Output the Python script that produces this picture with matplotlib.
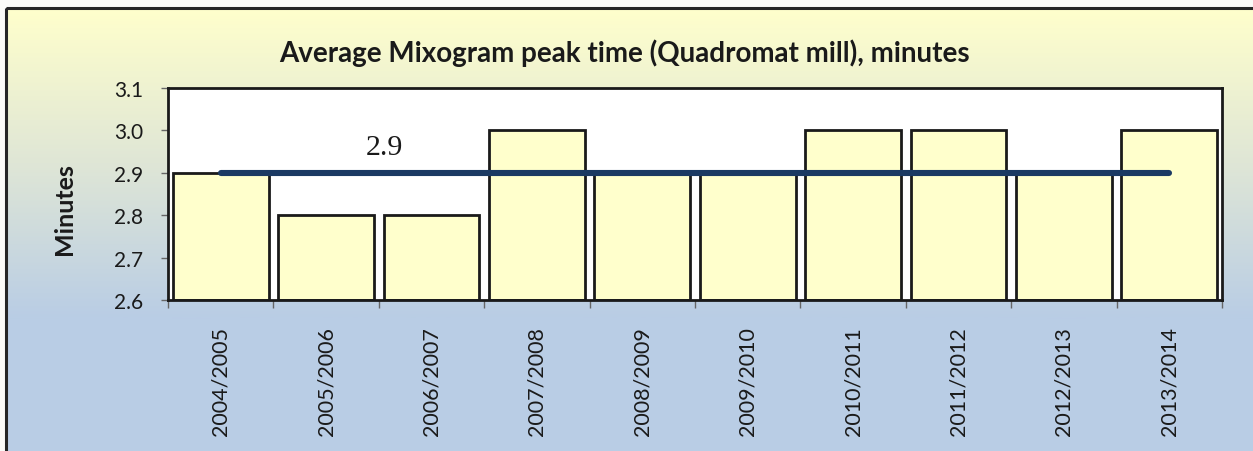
import numpy as np
import matplotlib.pyplot as plt
import matplotlib.colors as mpc
from matplotlib.patches import Rectangle

seasons = ['2004/2005', '2005/2006', '2006/2007', '2007/2008', '2008/2009',
           '2009/2010', '2010/2011', '2011/2012', '2012/2013', '2013/2014']
peak_time = [2.9, 2.8, 2.8, 3.0, 2.9, 2.9, 3.0, 3.0, 2.9, 3.0]
average = 2.9

title = 'Average Mixogram peak time (Quadromat mill), minutes'
ylabel = 'Minutes'
yticks = [2.6, 2.7, 2.8, 2.9, 3.0, 3.1]

W, H = 1253, 452


def main():
    plt.rcParams['font.family'] = ['Lato', 'DejaVu Sans']

    fig = plt.figure(figsize=(W / 100, H / 100), dpi=100, facecolor='#fbfbf8')

    # background gradient (yellow at top to blue at bottom) inside the chart frame
    bg = fig.add_axes([0, 0, 1, 1], zorder=-10)
    bg.set_xlim(0, W)
    bg.set_ylim(H, 0)
    bg.axis('off')
    cmap = mpc.LinearSegmentedColormap.from_list('bg', ['#ffffcc', '#dfe6d6', '#b9cde5'])
    rows = np.linspace(0, 1, 300)[:, None]
    bg.imshow(rows, cmap=cmap, aspect='auto', extent=(6, W + 5, 320, 9), zorder=0)
    bg.add_patch(Rectangle((6, 320), W, H, facecolor='#b9cde5', edgecolor='none', zorder=0))
    bg.add_patch(Rectangle((6, 9), W + 10, H + 10, facecolor='none',
                           edgecolor='#262626', linewidth=2.2, zorder=1))

    ax = fig.add_axes([168 / W, 1 - 301 / H, (1222 - 168) / W, (301 - 89) / H])
    ax.set_facecolor('white')

    x = np.arange(len(seasons))
    ax.bar(x, np.array(peak_time) - 2.6, bottom=2.6, width=0.91,
           color='#ffffcc', edgecolor='#1a1a1a', linewidth=2, zorder=2)
    ax.plot([x[0], x[-1]], [average, average], color='#1b3a63', linewidth=4.4,
            solid_capstyle='round', zorder=3)
    ax.text(1.55, 2.962, f'{average:.1f}', family='Liberation Serif', fontsize=21.5,
            ha='center', va='center', color='#1a1a1a')

    ax.set_xlim(-0.5, len(seasons) - 0.5)
    ax.set_ylim(2.6, 3.1)
    ax.set_yticks(yticks)
    ax.set_yticklabels([f'{v:.1f}' for v in yticks])
    ax.set_xticks(x)
    ax.set_xticklabels(seasons, rotation=90)
    ax.set_xticks(np.arange(len(seasons) + 1) - 0.5, minor=True)
    ax.tick_params(axis='x', which='major', length=0, pad=19, labelsize=15.5, labelcolor='#1a1a1a')
    ax.tick_params(axis='x', which='minor', length=6, width=1, color='#666666', direction='out')
    ax.tick_params(axis='y', length=5, width=1, color='#666666', pad=13, labelsize=15,
                   labelcolor='#1a1a1a')

    for s in ax.spines.values():
        s.set_color('#1a1a1a')
        s.set_linewidth(2)

    fig.text(64 / W, 1 - 209 / H, ylabel, fontsize=18, fontweight='bold', rotation=90,
             ha='center', va='center', color='#1a1a1a')
    fig.text(624 / W, 1 - 62 / H, title, fontsize=20, fontweight='bold',
             ha='center', va='baseline', color='#1a1a1a')

    fig.savefig('out.png', dpi=100, facecolor=fig.get_facecolor())


if __name__ == '__main__':
    main()
